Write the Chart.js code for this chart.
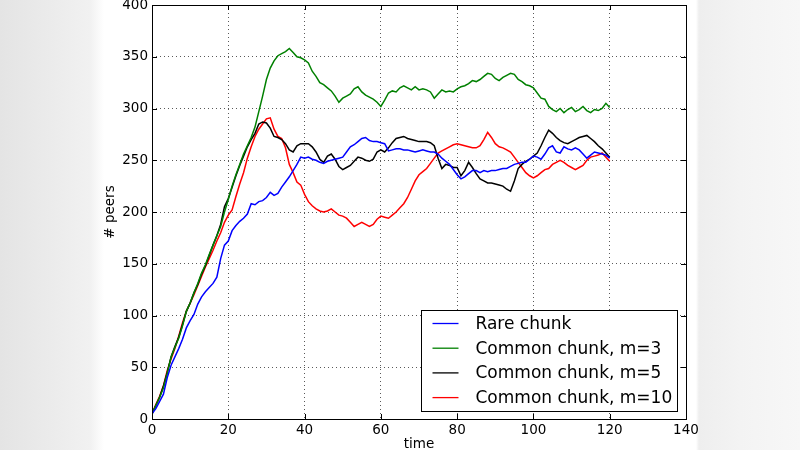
<!DOCTYPE html>
<html>
<head>
<meta charset="utf-8">
<script src="https://cdn.jsdelivr.net/npm/chart.js@4/dist/chart.umd.min.js"></script>
<style>
  html, body { margin: 0; padding: 0; }
  body {
    width: 800px; height: 450px; overflow: hidden;
    background: linear-gradient(to right, #e4e4e4 0px, #ebebeb 50px, #f1f1f1 90px, #fdfdfd 102px, #ffffff 104px, #ffffff 696px, #eeeeee 699px, #f3f3f3 740px, #f7f7f7 800px);
  }
  #wrap { position: absolute; left: 0; top: 0; width: 800px; height: 450px; }
</style>
</head>
<body>
<div id="wrap"><canvas id="c" width="800" height="450"></canvas></div>
<script>
const TIME = [0,1,2,3,4,5,6,7,8,9,10,11,12,13,14,15,16,17,18,19,20,21,22,23,24,25,26,27,28,29,30,31,32,33,34,35,36,37,38,39,40,41,42,43,44,45,46,47,48,49,50,51,52,53,54,55,56,57,58,59,60,61,62,63,64,65,66,67,68,69,70,71,72,73,74,75,76,77,78,79,80,81,82,83,84,85,86,87,88,89,90,91,92,93,94,95,96,97,98,99,100,101,102,103,104,105,106,107,108,109,110,111,112,113,114,115,116,117,118,119,120];

const RARE = [5,10,17,24,40,52,60,68,77,88,95,101,111,118,123,127,131,137,155,168,
  172,182,187,191,194,198,208,207,210,211,214,219,216,218,224,229,234,240,246,253,
  252,253,251,250,248,247,249,250,251,252,253,258,263,265,268,271,272,269,268,268,
  267,266,259,260,261,261,260,260,259,258,259,260,259,258,258,256,252,249,246,241,
  236,232,234,237,240,240,238,240,239,240,240,241,242,242,244,246,247,248,248,251,
  254,253,251,256,262,264,258,257,263,261,260,262,260,256,252,255,258,257,256,255,252];

const COMMON_M3 = [5,13,21,30,44,60,69,78,90,104,112,122,131,141,149,159,168,177,186,200,
  212,225,236,246,256,264,272,282,297,312,328,339,346,351,353,355,358,354,350,349,
  347,344,336,331,325,323,320,317,312,306,310,312,314,319,321,316,313,311,309,306,
  302,308,315,317,316,320,322,320,318,321,318,319,318,316,310,314,318,316,317,316,
  319,321,322,324,327,326,328,331,334,333,329,327,330,332,334,333,328,326,323,322,
  320,315,310,309,302,299,297,300,296,299,301,297,299,302,298,296,299,298,300,305,301];

const COMMON_M5 = [5,13,21,32,45,60,70,79,91,104,112,122,130,140,148,158,168,177,188,205,
  213,224,235,245,254,263,270,276,285,287,286,281,273,272,270,266,260,258,264,266,
  266,266,263,258,251,248,254,256,251,244,241,243,245,249,253,252,250,249,251,258,
  260,258,262,267,271,272,273,271,270,269,268,268,268,267,264,252,242,246,245,243,
  243,235,240,248,243,237,232,230,228,228,227,226,225,222,220,230,242,246,249,251,
  254,257,264,272,279,276,272,269,267,266,268,270,272,273,274,271,268,264,261,257,253];

const COMMON_M10 = [5,14,22,32,47,58,68,80,93,104,112,120,129,138,147,155,163,172,180,190,
  197,202,215,227,238,252,263,273,280,285,290,291,280,273,271,262,246,238,229,226,
  217,210,206,203,201,200,201,203,200,197,196,194,190,186,188,190,188,186,188,193,
  196,195,194,197,200,204,208,214,222,230,236,239,242,247,252,257,259,261,263,265,
  266,265,264,263,262,262,264,270,277,272,266,263,262,260,258,253,248,243,238,235,
  233,235,238,241,242,246,248,250,248,245,243,241,243,245,250,253,254,255,257,253,249];

const SERIES_LABELS = ["Rare chunk", "Common chunk, m=3", "Common chunk, m=5", "Common chunk, m=10"];
const SERIES_COLORS = ["#0000ff", "#008000", "#000000", "#ff0000"];
const X_TICKS = [0,20,40,60,80,100,120,140];
const Y_TICKS = [0,50,100,150,200,250,300,350,400];
const X_TITLE = "time";
const Y_TITLE = "# peers";

const FONT = "'DejaVu Sans', 'Bitstream Vera Sans', sans-serif";

const seriesData = [RARE, COMMON_M3, COMMON_M5, COMMON_M10];

const frameAndLegend = {
  id: 'frameAndLegend',
  afterDatasetsDraw(chart) {
    const ctx = chart.ctx;
    const a = chart.chartArea;
    const xs = chart.scales.x, ys = chart.scales.y;
    ctx.save();
    ctx.strokeStyle = '#000';
    ctx.lineWidth = 1;
    const tl = 5;
    ctx.beginPath();
    X_TICKS.forEach(v => {
      const px = Math.round(xs.getPixelForValue(v)) + 0.5;
      ctx.moveTo(px, a.bottom); ctx.lineTo(px, a.bottom - tl);
      ctx.moveTo(px, a.top); ctx.lineTo(px, a.top + tl);
    });
    Y_TICKS.forEach(v => {
      const py = Math.round(ys.getPixelForValue(v)) + 0.5;
      ctx.moveTo(a.left, py); ctx.lineTo(a.left + tl, py);
      ctx.moveTo(a.right, py); ctx.lineTo(a.right - tl, py);
    });
    ctx.stroke();
    ctx.strokeRect(Math.round(a.left) + 0.5, Math.round(a.top) + 0.5,
                   Math.round(a.right - a.left), Math.round(a.bottom - a.top));
    const bw = 256, bh = 101;
    const bx = Math.round(a.right - 9 - bw) + 0.5;
    const by = Math.round(a.bottom - 8 - bh) + 0.5;
    ctx.fillStyle = '#fff';
    ctx.fillRect(bx, by, bw, bh);
    ctx.strokeStyle = '#000';
    ctx.lineWidth = 1;
    ctx.strokeRect(bx, by, bw, bh);
    ctx.font = "17px " + FONT;
    ctx.textBaseline = 'middle';
    ctx.textAlign = 'left';
    chart.data.datasets.forEach((ds, i) => {
      const y = by + 13 + i * 24.7;
      ctx.strokeStyle = ds.borderColor;
      ctx.lineWidth = 1.3;
      ctx.beginPath();
      ctx.moveTo(bx + 11, y); ctx.lineTo(bx + 37, y);
      ctx.stroke();
      ctx.fillStyle = '#000';
      ctx.fillText(ds.label, bx + 54, y + 1);
    });
    ctx.restore();
  }
};

new Chart(document.getElementById('c'), {
  type: 'line',
  data: {
    labels: TIME,
    datasets: seriesData.map((d, i) => ({
      label: SERIES_LABELS[i],
      data: d,
      borderColor: SERIES_COLORS[i],
      backgroundColor: SERIES_COLORS[i],
      borderWidth: 1.5,
      pointRadius: 0,
      tension: 0,
      fill: false
    }))
  },
  options: {
    responsive: false,
    animation: false,
    events: [],
    layout: { padding: { left: 102, right: 114, top: 5, bottom: 0 } },
    plugins: { legend: { display: false }, tooltip: { enabled: false } },
    scales: {
      x: {
        type: 'linear', min: 0, max: 140,
        afterBuildTicks: s => { s.ticks = X_TICKS.map(v => ({ value: v })); },
        afterFit: s => { s.height = 31; s.paddingLeft = 0; s.paddingRight = 0; },
        ticks: { color: '#000', font: { family: FONT, size: 13.5 }, padding: 3, maxRotation: 0, autoSkip: false },
        grid: { color: 'rgba(0,0,0,0.65)', lineWidth: 1, drawTicks: false },
        border: { display: false, dash: [1, 3] },
        title: { display: true, text: X_TITLE, color: '#000', font: { family: FONT, size: 13.5, lineHeight: 0.75 }, padding: 0 }
      },
      y: {
        type: 'linear', min: 0, max: 400,
        afterBuildTicks: s => { s.ticks = Y_TICKS.map(v => ({ value: v })); },
        afterFit: s => { s.width = 50; s.paddingTop = 0; s.paddingBottom = 0; },
        ticks: { color: '#000', font: { family: FONT, size: 13.5 }, padding: 4, autoSkip: false },
        grid: { color: 'rgba(0,0,0,0.65)', lineWidth: 1, drawTicks: false },
        border: { display: false, dash: [1, 3] },
        title: { display: true, text: Y_TITLE, color: '#000', font: { family: FONT, size: 13.5, lineHeight: 1.2 }, padding: 0 }
      }
    }
  },
  plugins: [frameAndLegend]
});
</script>
</body>
</html>
